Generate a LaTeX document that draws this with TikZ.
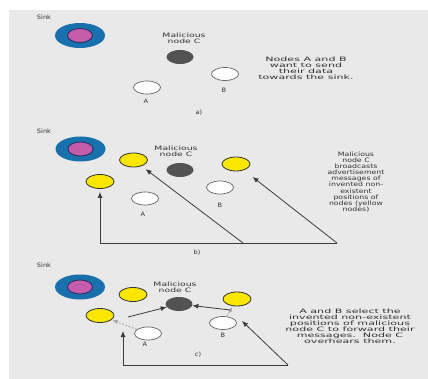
\documentclass[tikz,border=0pt]{standalone}
\usepackage{fontspec}
\setmainfont{DejaVu Sans}
\newfontfamily\fW{DejaVu Sans}[FakeStretch=1.85]
\newfontfamily\fM{DejaVu Sans}[FakeStretch=1.55]
\newfontfamily\fB{DejaVu Sans}[FakeStretch=1.3]
\newfontfamily\fN{DejaVu Sans}[FakeStretch=1.1]
\usetikzlibrary{shapes.geometric,arrows.meta}
\definecolor{bg}{RGB}{233,233,233}
\definecolor{sinkblue}{RGB}{24,112,172}
\definecolor{sinkpink}{RGB}{196,92,170}
\definecolor{navy}{RGB}{40,40,100}
\definecolor{yel}{RGB}{250,230,0}
\definecolor{darknode}{RGB}{82,82,82}
\definecolor{txt}{RGB}{50,50,50}
\definecolor{linec}{RGB}{60,60,60}
\definecolor{wedge}{RGB}{100,100,100}
\definecolor{gline}{RGB}{160,160,160}
\tikzset{
  sinkout/.style={ellipse, fill=sinkblue, minimum width=50pt, minimum height=25pt, inner sep=0pt},
  sinkin/.style={ellipse, fill=sinkpink, draw=navy, line width=0.8pt, minimum width=25pt, minimum height=14pt, inner sep=0pt},
  wnode/.style={ellipse, fill=white, draw=wedge, line width=0.7pt, minimum width=27pt, minimum height=13pt, inner sep=0pt},
  ynode/.style={ellipse, fill=yel, draw=black!80, line width=0.8pt, minimum width=28pt, minimum height=14pt, inner sep=0pt},
  cnode/.style={ellipse, fill=darknode, minimum width=27pt, minimum height=14pt, inner sep=0pt},
  lbl/.style={text=txt, font={\fN\fontsize{6}{6}\selectfont}, inner sep=0pt},
  mlbl/.style={text=txt, align=center, font={\fM\fontsize{6}{6.4}\selectfont}, inner sep=0pt},
  descW/.style={text=txt, align=center, font={\fW\fontsize{6}{6.1}\selectfont}, inner sep=0pt},
  descB/.style={text=txt, align=center, font={\fB\fontsize{6}{6.1}\selectfont}, inner sep=0pt},
  plain/.style={draw=linec, line width=0.8pt},
  arr/.style={draw=linec, line width=0.8pt, -{Latex[length=6pt,width=5pt]}},
  garr/.style={draw=gline, line width=0.8pt, dash pattern=on 2pt off 1.5pt, -{Latex[length=5pt,width=4pt]}}
}
\begin{document}
\begin{tikzpicture}[x=1pt,y=-1pt]
\useasboundingbox (0,0) rectangle (428,379);
\fill[bg] (9,10) rectangle (428,379);

% ---------- panel a ----------
\node[lbl] (sinkAl) at (44,17) {Sink};
\node[sinkout] (sinkA) at (80,35.5) {};
\node[sinkin] (sinkAi) at (80,35.5) {};
\node[mlbl] (malA) at (184,38.5) {Malicious\\node C};
\node[cnode] (cA) at (180,57) {};
\node[wnode] (bA) at (225,74) {};
\node[lbl] (bAl) at (224,90) {B};
\node[wnode] (aA) at (147,87.5) {};
\node[lbl] (aAl) at (146,101.5) {A};
\node[lbl] (capA) at (199,113) {a)};
\node[descW] (txtA) at (306,68.5) {Nodes A and B\\want to send\\their data\\towards the sink.};

% ---------- panel b ----------
\node[lbl] (sinkBl) at (44,131) {Sink};
\node[sinkout] (sinkB) at (80.5,149) {};
\node[sinkin] (sinkBi) at (80.5,149) {};
\node[ynode] (yT) at (133.5,160) {};
\node[ynode] (yL) at (100,181.5) {};
\node[mlbl] (malB) at (176,151) {Malicious\\node C};
\node[cnode] (cB) at (180,170) {};
\node[ynode] (yR) at (236,164) {};
\node[wnode] (bB) at (220,187.5) {};
\node[lbl] (bBl) at (220,205) {B};
\node[wnode] (aB) at (145,198.5) {};
\node[lbl] (aBl) at (143,214) {A};
\node[lbl] (capB) at (197,253) {b)};
\node[descB] (txtB) at (356,182) {Malicious\\node C\\broadcasts\\advertisement\\messages of\\invented non-\\existent\\positions of\\nodes (yellow\\nodes)};
\coordinate (b1) at (100,243);
\coordinate (b2) at (243,243);
\coordinate (b3) at (337,243);
\draw[plain] (b1) -- (b3);
\draw[arr, shorten >=3pt] (b1) -- (yL);
\draw[arr, shorten >=5pt] (b2) -- (yT);
\draw[arr, shorten >=11pt] (b3) -- (yR);

% ---------- panel c ----------
\node[lbl] (sinkCl) at (44,265) {Sink};
\node[sinkout] (sinkC) at (80,287) {};
\node[sinkin] (sinkCi) at (80,287) {};
\node[ynode] (yT2) at (133,294.5) {};
\node[ynode] (yL2) at (100,315.5) {};
\node[mlbl] (malC) at (175,287) {Malicious\\node C};
\node[cnode] (cC) at (179,304) {};
\node[ynode] (yR2) at (237,299) {};
\node[wnode] (bC) at (223,323) {};
\node[lbl] (bCl) at (223,335) {B};
\node[wnode] (aC) at (148,333.5) {};
\node[lbl] (aCl) at (145,344) {A};
\node[lbl] (capC) at (198,355) {c)};
\node[descW] (txtC) at (350,326.3) {A and B select the\\invented non-existent\\positions of malicious\\node C to forward their\\messages.\ \ Node C\\overhears them.};
\coordinate (c1) at (123,365);
\coordinate (c3) at (288,365);
\coordinate (ctip) at (123,331);
\coordinate (bhit) at (242,321);
\coordinate (pA) at (128,317);
\coordinate (pB) at (230,310);
\draw[plain] (c1) -- (c3);
\draw[arr] (c1) -- (ctip);
\draw[arr] (c3) -- (bhit);
\draw[garr, shorten >=1pt] (aC) -- (yL2);
\draw[garr, shorten >=1pt] (bC) -- (yR2);
\draw[arr] (pA) -- (cC);
\draw[arr] (pB) -- (cC);
\end{tikzpicture}
\end{document}
